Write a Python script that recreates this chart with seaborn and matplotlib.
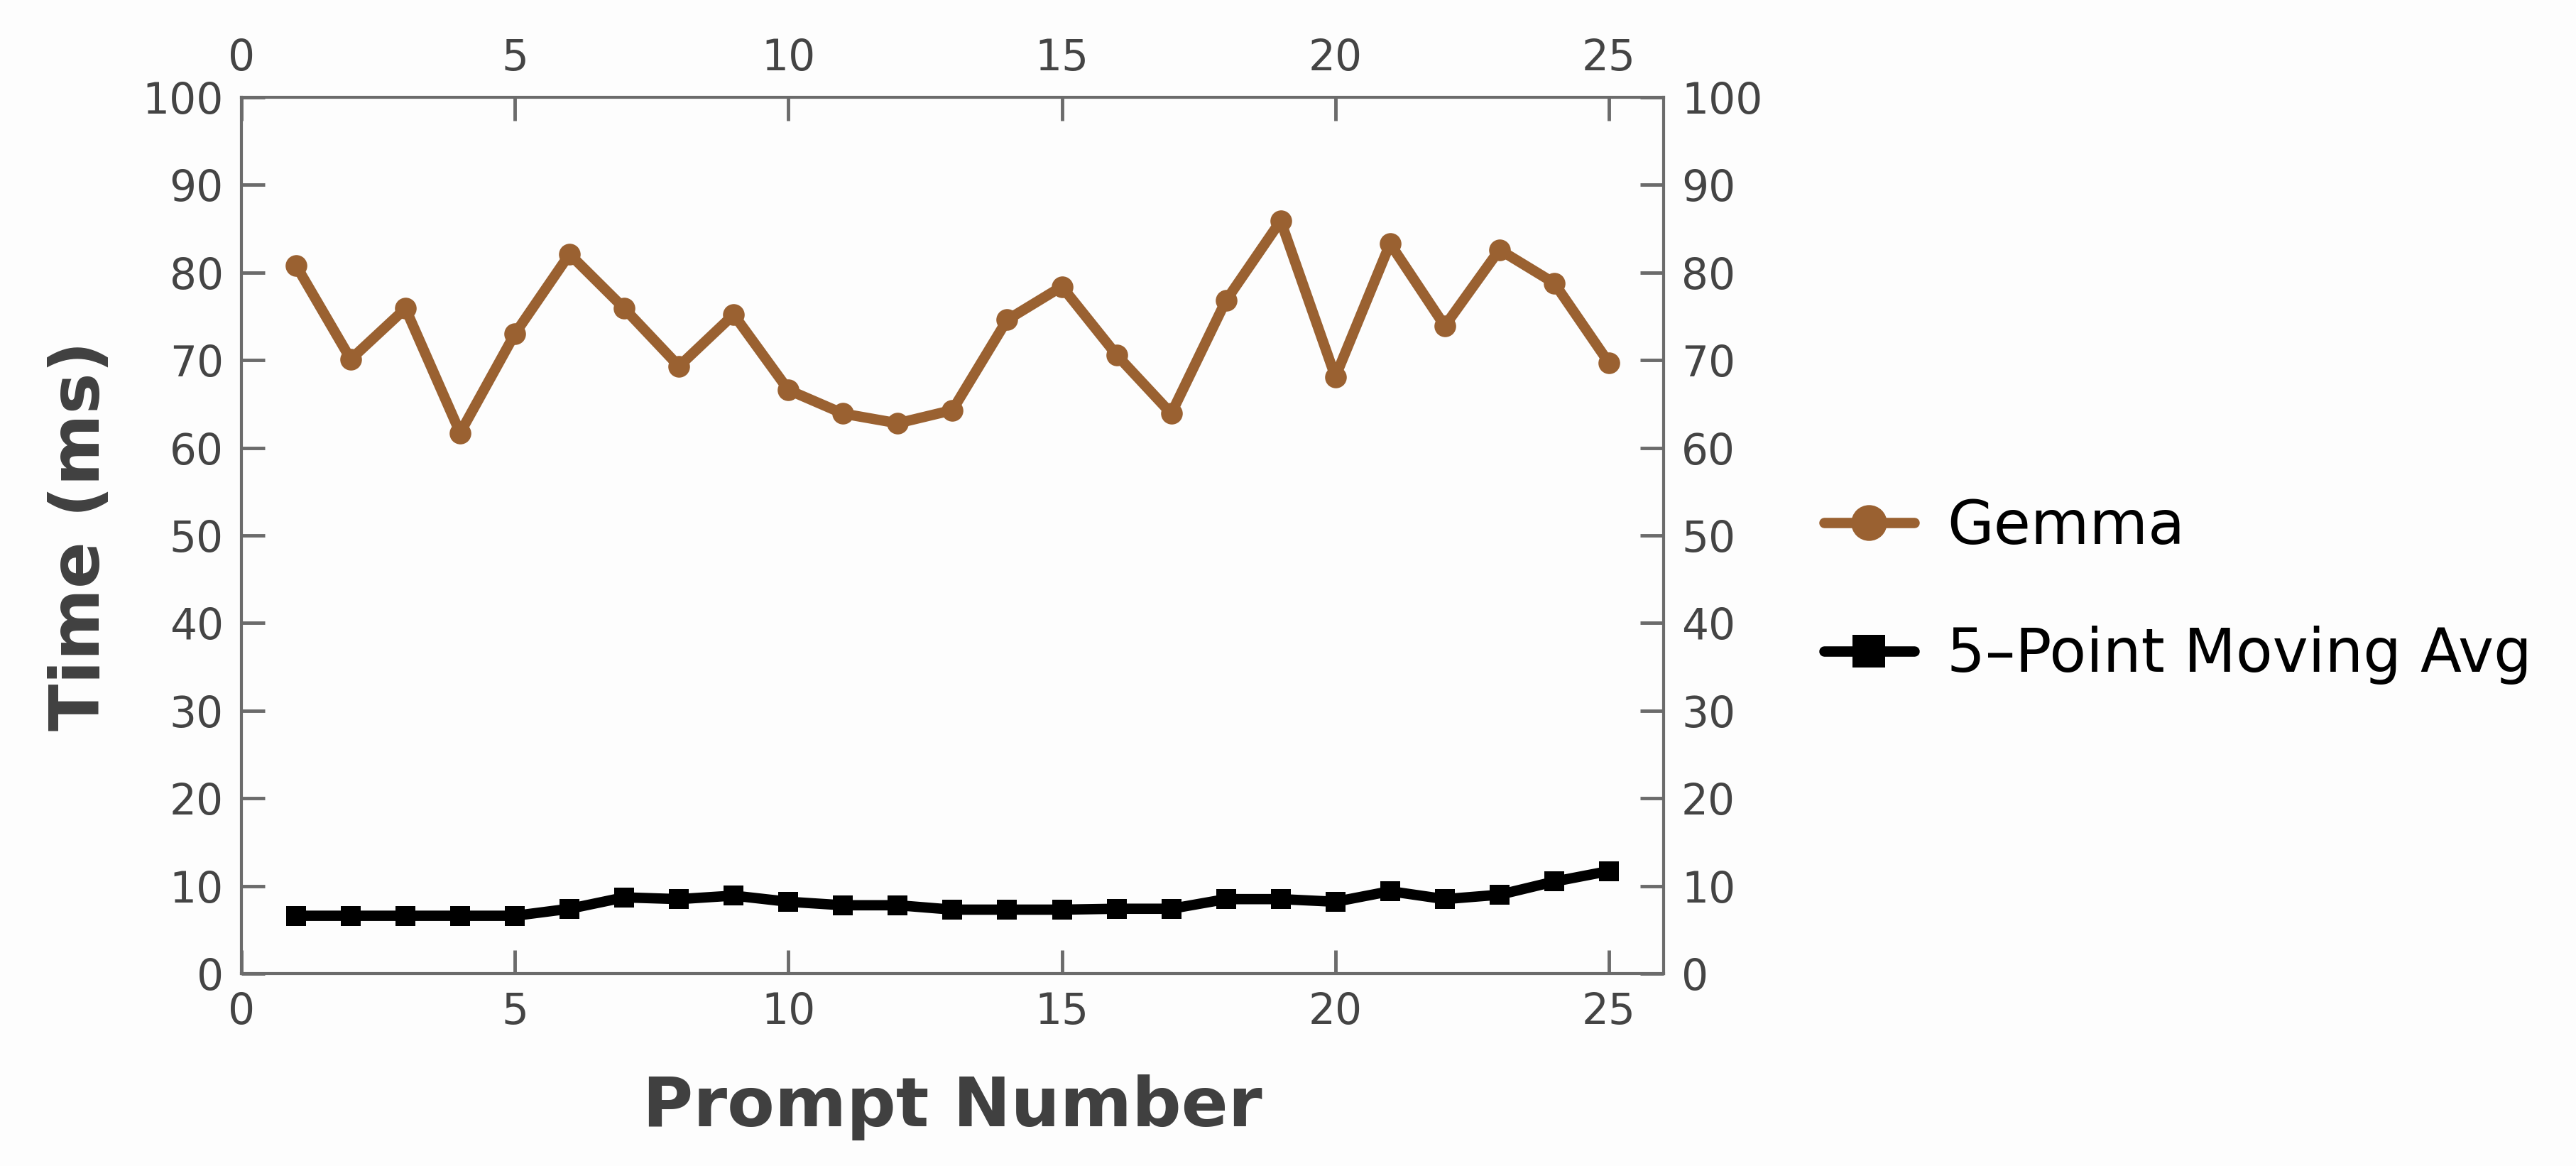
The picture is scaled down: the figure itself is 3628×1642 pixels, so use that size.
import numpy as np
import pandas as pd
import seaborn as sns
import matplotlib.pyplot as plt

# === data ===
prompt_number = list(range(1, 26))
gemma_ms = [80.8, 70.1, 75.9, 61.7, 73.0, 82.1, 75.9, 69.3, 75.2, 66.6,
            63.9, 62.8, 64.3, 74.6, 78.4, 70.6, 63.9, 76.8, 85.9, 68.1,
            83.3, 73.9, 82.6, 78.8, 69.7]
moving_avg_ms = [6.6, 6.6, 6.6, 6.6, 6.6, 7.4, 8.7, 8.5, 8.9, 8.2,
                 7.8, 7.8, 7.3, 7.3, 7.3, 7.4, 7.4, 8.5, 8.5, 8.2,
                 9.4, 8.5, 9.0, 10.5, 11.7]
series_names = ["Gemma", "5\u2013Point Moving Avg"]
series_colors = ["#9a6131", "#000000"]
series_markers = ["o", "s"]
x_ticks = [0, 5, 10, 15, 20, 25]
y_ticks = list(range(0, 101, 10))

df = pd.DataFrame({
    "prompt": prompt_number * 2,
    "time": gemma_ms + moving_avg_ms,
    "series": [series_names[0]] * 25 + [series_names[1]] * 25,
})

sns.set_style("ticks")
plt.rcParams["font.family"] = ["DejaVu Sans"]

axis_grey = "#6b6b6b"
text_grey = "#444444"

fig = plt.figure(figsize=(36.28, 16.42), dpi=100, facecolor="#fdfdfd")
ax = fig.add_axes([0.0937, 0.165, 0.6458 - 0.0937, 0.9166 - 0.165])
ax.set_facecolor("#fdfdfd")

for name, color, marker, size in zip(series_names, series_colors, series_markers, [22, 20]):
    sns.lineplot(data=df[df["series"] == name], x="prompt", y="time", ax=ax,
                 color=color, marker=marker, markersize=size, linewidth=10.5,
                 markeredgewidth=0, label=name)

ax.set_xlim(0, 26)
ax.set_ylim(0, 100)
ax.set_xticks(x_ticks)
ax.set_yticks(y_ticks)

ax.tick_params(axis="both", which="both", direction="in", length=24, width=3.5,
               color=axis_grey, labelcolor=text_grey, labelsize=43, pad=18,
               top=True, right=True, labeltop=True, labelright=True)
for side in ["left", "right", "top", "bottom"]:
    ax.spines[side].set_color(axis_grey)
    ax.spines[side].set_linewidth(3)

ax.set_xlabel("Prompt Number", fontsize=70, fontweight="bold", color="#404040")
ax.set_ylabel("Time (ms)", fontsize=70, fontweight="bold", color="#404040")
ax.xaxis.set_label_coords(0.5, -0.115)
ax.yaxis.set_label_coords(-0.09, 0.5)

ax.get_legend().remove()
handles, labels = ax.get_legend_handles_labels()
fig.legend(handles, labels, loc="center left", bbox_to_anchor=(0.708, 0.493),
           frameon=False, fontsize=61, handlelength=1.5, handletextpad=0.55,
           labelspacing=1.15, markerscale=1.65, borderpad=0, borderaxespad=0,
           labelcolor="black")

fig.savefig("out.png", dpi=100, facecolor=fig.get_facecolor())
